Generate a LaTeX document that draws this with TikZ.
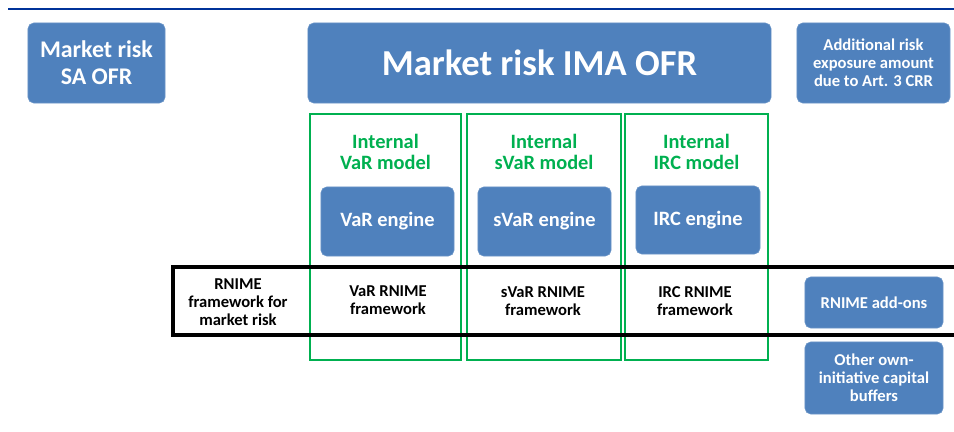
\documentclass[tikz,border=0pt]{standalone}
\usepackage{fontspec}
\setmainfont{Carlito}
\usetikzlibrary{positioning}
\definecolor{boxblue}{RGB}{79,129,189}
\definecolor{framegreen}{RGB}{0,176,80}
\definecolor{ruleblue}{RGB}{0,51,153}

\begin{document}
\begin{tikzpicture}[x=0.025cm, y=-0.025cm, font=\bfseries]
    \tikzset{bluebox/.style={fill=boxblue, draw=boxblue!85!white, rounded corners=4pt, text=white, align=center, inner sep=2pt},
      greenframe/.style={draw=framegreen, line width=1.5pt, inner sep=0pt},
      greenlabel/.style={text=framegreen, align=center, font={\fontsize{14.5pt}{15.5pt}\selectfont\bfseries}},
      small/.style={font={\fontsize{11.8pt}{12.8pt}\selectfont\bfseries}},
      engine/.style={bluebox, font={\fontsize{14.5pt}{16pt}\selectfont\bfseries}}}
    \useasboundingbox (0,0) rectangle (954,432);
    \draw [ruleblue, line width=1.8pt] (8,9) -- (954,9);
    % top row
    \node [bluebox, minimum width=3.425cm, minimum height=2cm, font={\fontsize{17pt}{19pt}\selectfont\bfseries}] (sa) at (96.5,63) {Market risk\\SA OFR};
    \node [bluebox, minimum width=11.575cm, minimum height=2cm, font={\fontsize{26pt}{30pt}\selectfont\bfseries}] (ima) at (539.5,63) {Market risk IMA OFR};
    \node [bluebox, small, minimum width=3.825cm, minimum height=2cm] (add) at (873.5,63) {Additional risk\\exposure amount\\due to Art. 3 CRR};
    % internal models
    \node [greenframe, minimum width=3.775cm, minimum height=6.15cm] (var) at (385.5,237) {};
    \node [greenframe, minimum width=3.85cm, minimum height=6.15cm] (svar) at (544,237) {};
    \node [greenframe, minimum width=3.575cm, minimum height=6.15cm] (irc) at (696.5,237) {};
    \node [greenlabel] (vart) at (385.5,152) {Internal\\VaR model};
    \node [greenlabel] (svart) at (544,152) {Internal\\sVaR model};
    \node [greenlabel] (irct) at (696.5,152) {Internal\\IRC model};
    \node [engine, minimum width=3.325cm, minimum height=1.725cm] (vare) at (387.5,221.5) {VaR engine};
    \node [engine, minimum width=3.325cm, minimum height=1.725cm] (svare) at (544.5,221.5) {sVaR engine};
    \node [engine, minimum width=3.1cm, minimum height=1.7cm] (irce) at (698,220) {IRC engine};
    % RNIME band
    \node [draw=black, line width=2.8pt, minimum width=19.9cm, minimum height=1.7cm] (band) at (571.5,301) {};
    \node [small, align=center] (rnime) at (238,302) {RNIME\\framework for\\market risk};
    \node [small, align=center] (varr) at (388,300) {VaR RNIME\\framework};
    \node [small, align=center] (svarr) at (543,301) {sVaR RNIME\\framework};
    \node [small, align=center] (ircr) at (695,301) {IRC RNIME\\framework};
    \node [bluebox, small, minimum width=3.45cm, minimum height=1.275cm] (addons) at (874,302.5) {RNIME add-ons};
    \node [bluebox, small, minimum width=3.45cm, minimum height=1.8cm] (other) at (874,378) {Other own-\\initiative capital\\buffers};
\end{tikzpicture}
\end{document}
